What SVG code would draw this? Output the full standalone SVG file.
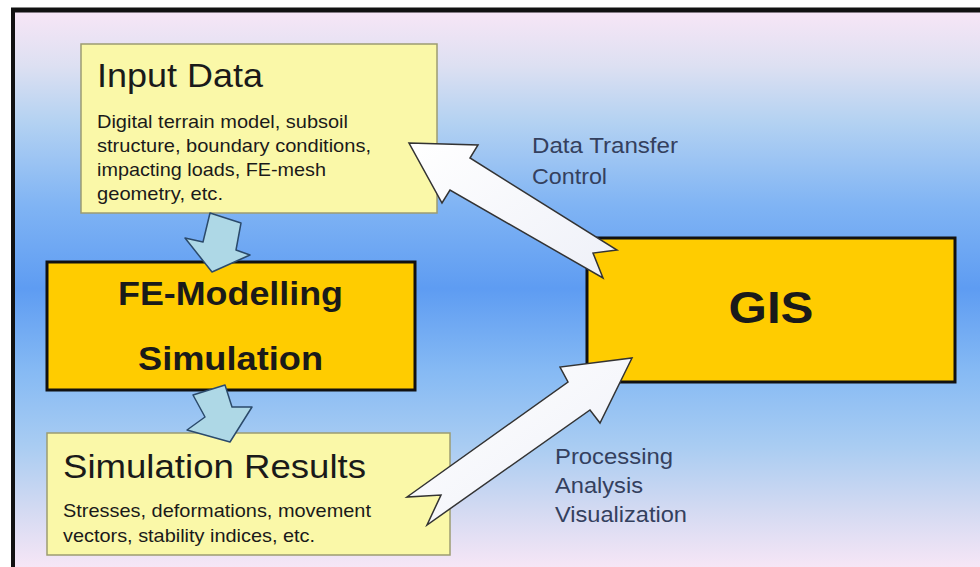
<svg xmlns="http://www.w3.org/2000/svg" width="980" height="567" viewBox="0 0 980 567">
<defs>
<linearGradient id="bg" x1="0" y1="10" x2="0" y2="567" gradientUnits="userSpaceOnUse">
<stop offset="0" stop-color="#F8E6F6"/>
<stop offset="0.1" stop-color="#DDE0F2"/>
<stop offset="0.2" stop-color="#B4D2F2"/>
<stop offset="0.35" stop-color="#80B4F4"/>
<stop offset="0.5" stop-color="#5E9CF2"/>
<stop offset="0.65" stop-color="#86BAF4"/>
<stop offset="0.78" stop-color="#A8CCF2"/>
<stop offset="0.9" stop-color="#D4DAF2"/>
<stop offset="1" stop-color="#F6E6F6"/>
</linearGradient>
<linearGradient id="wh" x1="0" y1="0" x2="1" y2="1">
<stop offset="0" stop-color="#FFFFFF"/>
<stop offset="1" stop-color="#EEF0F8"/>
</linearGradient>
<style>
.note{fill:#FAF8A8;stroke:#9C9C72;stroke-width:1.5}
.gold{fill:#FFCC00;stroke:#111;stroke-width:3}
.t{font-family:"Liberation Sans",Arial,sans-serif;fill:#1A1A1A}
.title{font-size:34px}
.body{font-size:18.5px}
.bold{font-weight:bold}
.lbl{font-family:"Liberation Sans",Arial,sans-serif;font-size:22px;fill:#34405E}
.big{fill:url(#wh);stroke:#333;stroke-width:1.5;stroke-linejoin:miter}
.small{fill:#AED8E6;stroke:#2B4A6B;stroke-width:1.5;stroke-linejoin:round}
</style>
</defs>
<rect x="0" y="0" width="980" height="567" fill="#FFFFFF"/>
<rect x="13" y="10" width="967" height="557" fill="url(#bg)"/>
<g id="frame">
<line x1="11" y1="10" x2="980" y2="10" stroke="#111" stroke-width="5"/>
<line x1="13" y1="8" x2="13" y2="567" stroke="#111" stroke-width="4"/>
</g>
<g id="input-data">
<rect class="note" x="81" y="44" width="356" height="169"/>
<text class="t title" x="97" y="87" textLength="166" lengthAdjust="spacingAndGlyphs">Input Data</text>
<text class="t body" x="97" y="128" textLength="251" lengthAdjust="spacingAndGlyphs">Digital terrain model, subsoil</text>
<text class="t body" x="97" y="152" textLength="274" lengthAdjust="spacingAndGlyphs">structure, boundary conditions,</text>
<text class="t body" x="97" y="176" textLength="229" lengthAdjust="spacingAndGlyphs">impacting loads, FE-mesh</text>
<text class="t body" x="97" y="200" textLength="126" lengthAdjust="spacingAndGlyphs">geometry, etc.</text>
</g>
<g id="fe-modelling">
<rect class="gold" x="47" y="262" width="368" height="128"/>
<text class="t title bold" x="230.5" y="305" text-anchor="middle" textLength="225" lengthAdjust="spacingAndGlyphs">FE-Modelling</text>
<text class="t title bold" x="230.5" y="370" text-anchor="middle" textLength="185" lengthAdjust="spacingAndGlyphs">Simulation</text>
</g>
<g id="simulation-results">
<rect class="note" x="47" y="433" width="403" height="122"/>
<text class="t" x="63" y="478" font-size="33" textLength="303" lengthAdjust="spacingAndGlyphs">Simulation Results</text>
<text class="t body" x="63" y="517" textLength="308" lengthAdjust="spacingAndGlyphs">Stresses, deformations, movement</text>
<text class="t body" x="63" y="542" textLength="252" lengthAdjust="spacingAndGlyphs">vectors, stability indices, etc.</text>
</g>
<g id="gis">
<rect class="gold" x="587" y="238" width="368" height="144"/>
<text class="t bold" x="771" y="323" font-size="44" text-anchor="middle" textLength="85" lengthAdjust="spacingAndGlyphs">GIS</text>
</g>
<g id="connectors">
<polygon class="small" points="210,213 241,223 236,250 250,255 212,272 185,238 203,242"/>
<polygon class="small" points="193,395 225,385 232,407 252,407 230,442 187,430 205,417"/>
<polygon class="big" points="409,143 478,145 470,158 617,250 593,253 603,278 450,190 442,203"/>
<polygon class="big" points="632,358 600,423 590,410 427,525 441,495 407,497 568,382 560,367"/>
<text class="lbl" x="532" y="153" textLength="146" lengthAdjust="spacingAndGlyphs">Data Transfer</text>
<text class="lbl" x="532" y="184" textLength="75" lengthAdjust="spacingAndGlyphs">Control</text>
<text class="lbl" x="555" y="464" textLength="118" lengthAdjust="spacingAndGlyphs">Processing</text>
<text class="lbl" x="555" y="493" textLength="88" lengthAdjust="spacingAndGlyphs">Analysis</text>
<text class="lbl" x="555" y="522" textLength="132" lengthAdjust="spacingAndGlyphs">Visualization</text>
</g>
</svg>
